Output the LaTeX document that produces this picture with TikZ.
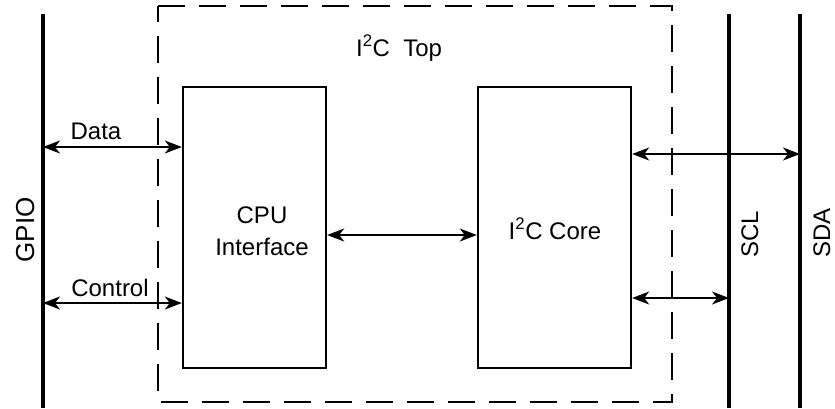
\documentclass[tikz,border=0pt]{standalone}
\usepackage{fontspec}
\setmainfont{Liberation Sans}
\usetikzlibrary{arrows.meta}
\begin{document}
\begin{tikzpicture}[x=1pt,y=-1pt,
  bus/.style={line width=3.4pt},
  blk/.style={draw,line width=2.4pt,inner sep=0pt},
  dashbox/.style={line width=1.8pt,dash pattern=on 27pt off 14pt},
  arr/.style={line width=1.6pt,{Stealth[length=17pt,width=13pt,inset=5pt]}-{Stealth[length=17pt,width=13pt,inset=5pt]}},
  lbl/.style={font=\fontsize{24}{32}\selectfont,inner sep=0pt}]
\useasboundingbox (0,0) rectangle (835,408);
% buses
\coordinate (gpioT) at (43,14);
\coordinate (gpioB) at (43,408);
\coordinate (sclT) at (729,14);
\coordinate (sclB) at (729,408);
\coordinate (sdaT) at (800,14);
\coordinate (sdaB) at (800,408);
\draw[bus] (gpioT) -- (gpioB);
\draw[bus] (sclT) -- (sclB);
\draw[bus] (sdaT) -- (sdaB);
% dashed top box
\draw[dashbox] (158,6) -- (672,6) -- (672,402) -- (158,402) -- cycle;
\node[lbl,anchor=base west] (top) at (356,56) {I\textsuperscript{2}C\ \ Top};
% blocks
\node[blk,minimum width=143pt,minimum height=281pt] (cpu) at (254.5,227.5) {};
\node[lbl,align=center] (cpulbl) at (262,231) {CPU\\Interface};
\node[blk,minimum width=153pt,minimum height=281pt] (core) at (554.5,227.5) {};
\node[lbl,anchor=base] (corelbl) at (555,239) {I\textsuperscript{2}C Core};
% side labels
\node[lbl,font=\fontsize{26}{32}\selectfont,rotate=90,anchor=base] (gpio) at (34,230) {GPIO};
\node[lbl,rotate=90,anchor=base] (scl) at (758,234) {SCL};
\node[lbl,rotate=90,anchor=base] (sda) at (830,233) {SDA};
% connector end points
\coordinate (dataE) at (cpu.west |- 0,147);
\coordinate (ctrlE) at (cpu.west |- 0,303);
\coordinate (midW) at (cpu.east |- 0,235);
\coordinate (midE) at (core.west |- 0,235);
\coordinate (sdaE) at (core.east |- 0,154);
\coordinate (sclE) at (core.east |- 0,298);
% connectors
\draw[arr] (gpioT |- dataE) -- (dataE);
\node[lbl,anchor=base] (datalbl) at (96,139) {Data};
\draw[arr] (gpioT |- ctrlE) -- (ctrlE);
\node[lbl,anchor=base] (ctrllbl) at (110,296) {Control};
\draw[arr] (midW) -- (midE);
\draw[arr] (sdaE) -- (sdaT |- sdaE);
\draw[arr] (sclE) -- (sclT |- sclE);
\end{tikzpicture}
\end{document}
